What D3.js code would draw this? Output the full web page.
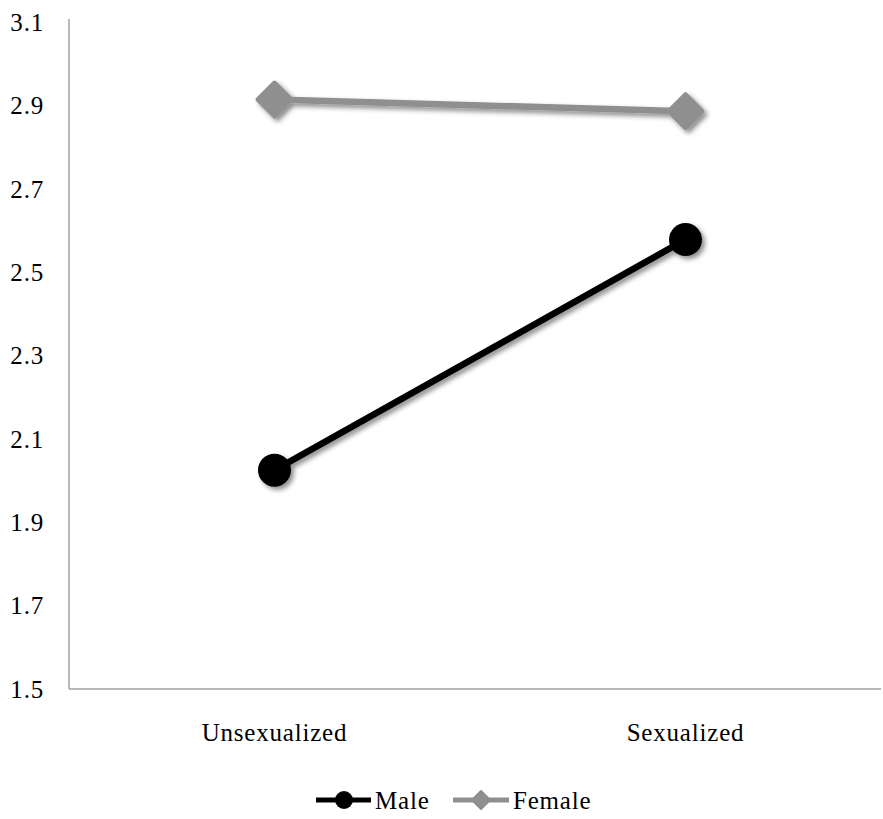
<!DOCTYPE html>
<html><head><meta charset="utf-8">
<script src="https://cdn.jsdelivr.net/npm/d3@7"></script>
<style>body{margin:0;background:#fff}svg{display:block}</style>
</head><body>
<svg id="c" width="883" height="819"></svg>
<script>
const categories = ["Unsexualized", "Sexualized"];
const maleValues = [2.025, 2.578];
const femaleValues = [2.914, 2.886];
const yTicks = [1.5, 1.7, 1.9, 2.1, 2.3, 2.5, 2.7, 2.9, 3.1];
const seriesNames = ["Male", "Female"];

(function(){
const font = "'Liberation Serif', serif";
const fs = 25;
const ls = "0.8px";
const svg = d3.select("#c");
const mLeft = 69, mRight = 891, mTop = 22, mBottom = 689;
const x = d3.scaleBand().domain(categories).range([mLeft, mRight]);
const y = d3.scaleLinear().domain([1.5, 3.1]).range([mBottom, mTop]);

const defs = svg.append("defs");
const f = defs.append("filter").attr("id","sh").attr("x","-50%").attr("y","-50%").attr("width","200%").attr("height","200%");
f.append("feDropShadow").attr("dx",3).attr("dy",3).attr("stdDeviation",2.5).attr("flood-color","#000").attr("flood-opacity",0.45);

// axes
svg.append("line").attr("x1",mLeft).attr("x2",mLeft).attr("y1",19).attr("y2",mBottom).attr("stroke","#a0a0a0").attr("stroke-width",1.5);
svg.append("line").attr("x1",mLeft).attr("x2",881).attr("y1",mBottom).attr("y2",mBottom).attr("stroke","#a0a0a0").attr("stroke-width",1.5);

svg.append("g").selectAll("text").data(yTicks).join("text")
  .attr("x",44).attr("y",d=>y(d)).attr("dy","0.35em").attr("text-anchor","end")
  .attr("font-family",font).attr("font-size",fs).attr("letter-spacing",ls).attr("fill","#000")
  .text(d=>d.toFixed(1));

svg.append("g").selectAll("text").data(categories).join("text")
  .attr("x",d=>x(d)+x.bandwidth()/2).attr("y",741).attr("text-anchor","middle")
  .attr("font-family",font).attr("font-size",fs).attr("letter-spacing",ls).attr("fill","#000")
  .text(d=>d);

const cx = d => x(d)+x.bandwidth()/2;
const line = d3.line().x((d,i)=>cx(categories[i])).y(d=>y(d));
const diamond = s => `M0,${-s} L${s},0 L0,${s} L${-s},0 Z`;

// female
const gF = svg.append("g").attr("filter","url(#sh)");
gF.append("path").attr("d",line(femaleValues)).attr("fill","none").attr("stroke","#8f8f8f").attr("stroke-width",6.5);
gF.selectAll("path.m").data(femaleValues).join("path").attr("class","m")
  .attr("transform",(d,i)=>`translate(${cx(categories[i])},${y(d)})`)
  .attr("d",diamond(17)).attr("fill","#8f8f8f").attr("stroke","#8f8f8f").attr("stroke-width",4).attr("stroke-linejoin","round");

// male
const gM = svg.append("g").attr("filter","url(#sh)");
gM.append("path").attr("d",line(maleValues)).attr("fill","none").attr("stroke","#000").attr("stroke-width",6.5);
gM.selectAll("circle").data(maleValues).join("circle")
  .attr("cx",(d,i)=>cx(categories[i])).attr("cy",d=>y(d)).attr("r",16.5).attr("fill","#000");

// legend
const lg = svg.append("g");
const ly = 800;
lg.append("line").attr("x1",316).attr("x2",371).attr("y1",ly).attr("y2",ly).attr("stroke","#000").attr("stroke-width",5);
lg.append("circle").attr("cx",344).attr("cy",ly).attr("r",9).attr("fill","#000");
lg.append("text").attr("x",375).attr("y",ly).attr("dy","0.35em").attr("font-family",font).attr("font-size",fs).attr("letter-spacing",ls).text(seriesNames[0]);
lg.append("line").attr("x1",453).attr("x2",509).attr("y1",ly).attr("y2",ly).attr("stroke","#8f8f8f").attr("stroke-width",5);
lg.append("path").attr("transform",`translate(481,${ly})`).attr("d",diamond(9)).attr("fill","#8f8f8f").attr("stroke","#8f8f8f").attr("stroke-width",2).attr("stroke-linejoin","round");
lg.append("text").attr("x",513).attr("y",ly).attr("dy","0.35em").attr("font-family",font).attr("font-size",fs).attr("letter-spacing",ls).text(seriesNames[1]);
})();
</script>
</body></html>
